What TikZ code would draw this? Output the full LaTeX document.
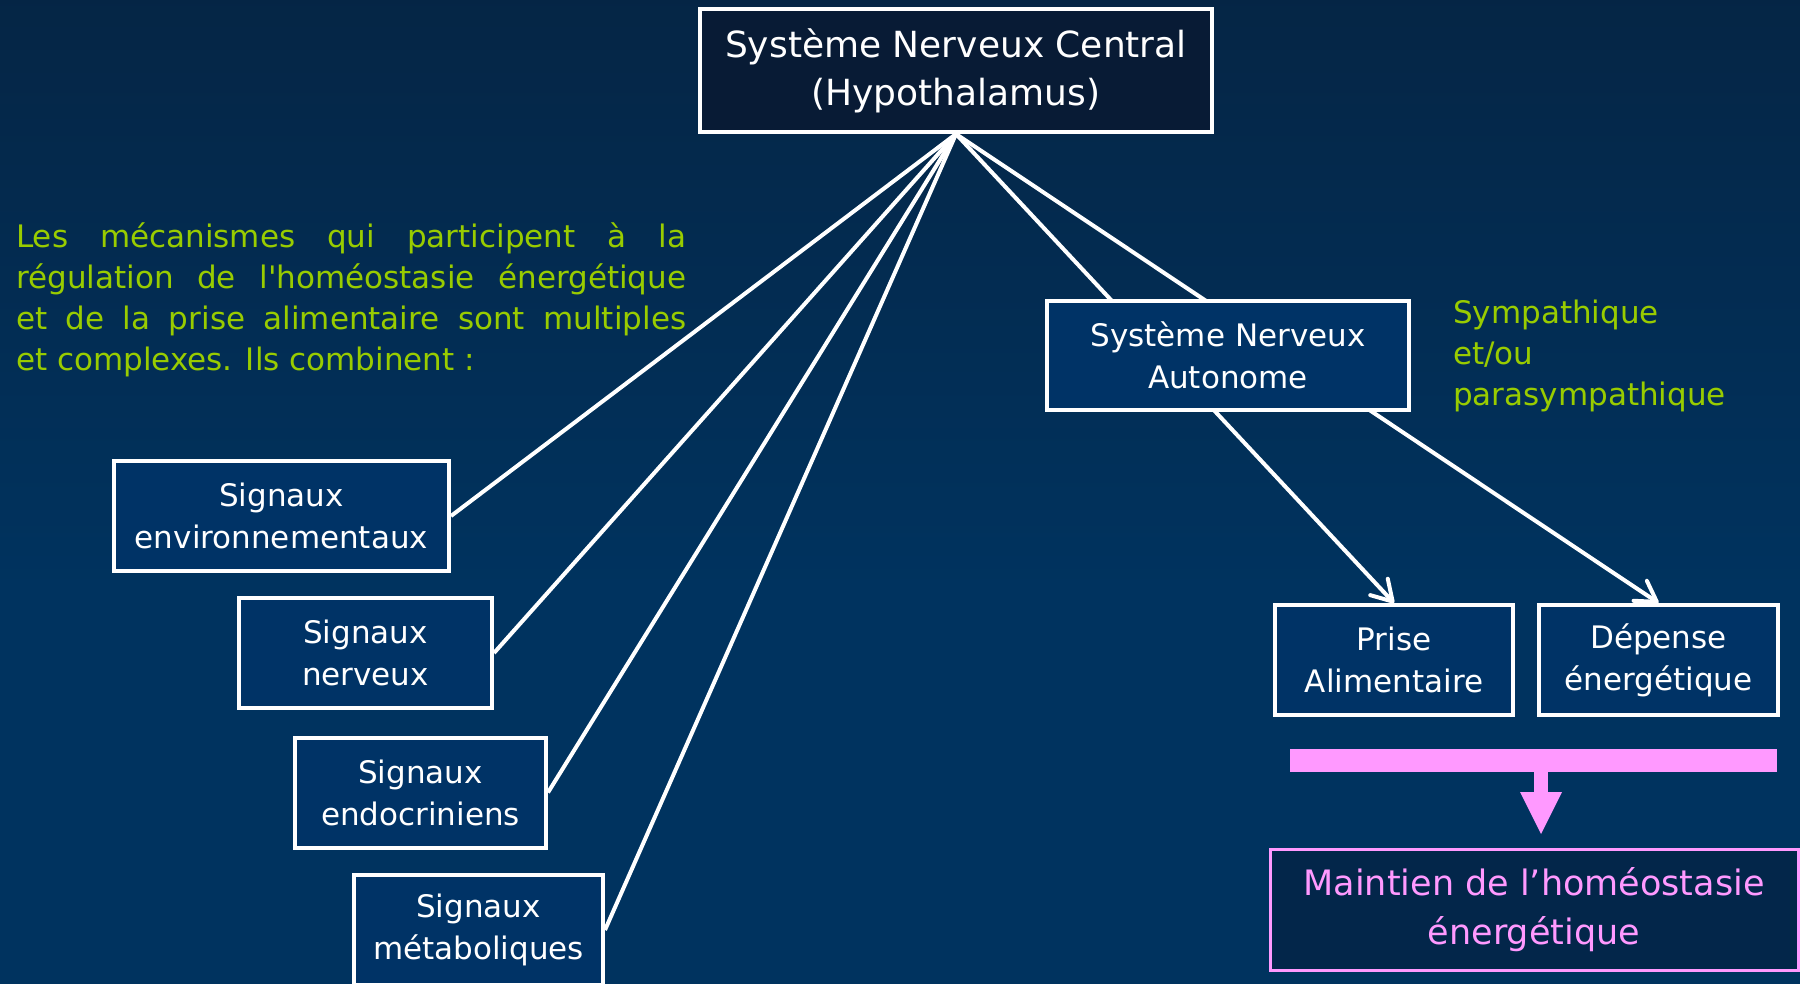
\documentclass[tikz,border=0pt]{standalone}
\usepackage{fontspec}
\setmainfont{DejaVu Sans}
\usetikzlibrary{arrows.meta}
\definecolor{bgtop}{HTML}{0A1A30}
\definecolor{bgmid}{HTML}{00335F}
\definecolor{bgbot}{HTML}{03264A}
\definecolor{boxfill}{HTML}{003366}
\definecolor{darkfill}{HTML}{081B35}
\definecolor{lime}{HTML}{99CC00}
\definecolor{pinkc}{HTML}{FF99FF}
\newcommand{\straightquote}{{\XeTeXglyph\XeTeXcharglyph"27\relax}}
\pgfdeclareverticalshading{bgshade}{100bp}{color(0bp)=(bgbot); color(25bp)=(bgmid); color(45bp)=(bgmid); color(100bp)=(bgtop)}
\tikzset{
  wbox/.style={draw=white, line width=4pt, fill=boxfill, text=white, align=center,
    inner sep=0pt, font=\fontsize{31}{42}\selectfont},
  conn/.style={draw=white, line width=4pt},
  arr/.style={conn, -{Straight Barb[length=20pt,width=24pt,round]}},
  greentext/.style={text=lime, inner sep=0pt, align=left, font=\fontsize{31}{41}\selectfont},
}
\begin{document}
\begin{tikzpicture}[x=1pt,y=-1pt]
\useasboundingbox (0,0) rectangle (1800,984);
\shade[shading=bgshade] (0,0) rectangle (1800,984);

% top node
\node[wbox, fill=darkfill, minimum width=512pt, minimum height=123pt,
      font=\fontsize{36}{48}\selectfont] (snc) at (956,70.5)
  {Système Nerveux Central\\(Hypothalamus)};

% signal boxes
\node[wbox, minimum width=335pt, minimum height=110pt] (s1) at (281.5,516)
  {Signaux\\environnementaux};
\node[wbox, minimum width=253pt, minimum height=110pt] (s2) at (365.5,653)
  {Signaux\\nerveux};
\node[wbox, minimum width=251pt, minimum height=110pt] (s3) at (420.5,792.5)
  {Signaux\\endocriniens};
\node[wbox, minimum width=249pt, minimum height=110pt] (s4) at (478.5,930)
  {Signaux\\métaboliques};

% output boxes
\node[wbox, minimum width=238pt, minimum height=110pt] (prise) at (1394,660)
  {Prise\\Alimentaire};
\node[wbox, minimum width=239pt, minimum height=110pt] (dep) at (1658.5,660)
  {Dépense\\énergétique};

% connectors
\draw[conn] (snc.south) -- (s1.east);
\draw[conn] (snc.south) -- (s2.east);
\draw[conn] (snc.south) -- (s3.east);
\draw[conn] (snc.south) -- (s4.east);
\draw[arr] (snc.south) -- (prise.north);
\draw[arr] (snc.south) -- (dep.north);

% autonomic box drawn over the arrows
\node[wbox, minimum width=362pt, minimum height=109pt] (sna) at (1228,355.5)
  {Système Nerveux\\Autonome};

% green texts
\node[greentext, anchor=north west] (para) at (16,222.5)
  {\makebox[670pt][s]{Les mécanismes qui participent à la}\\
   \makebox[670pt][s]{régulation de l\straightquote homéostasie énergétique}\\
   \makebox[670pt][s]{et de la prise alimentaire sont multiples}\\
   et complexes. Ils combinent :};
\node[greentext, anchor=north west] (symp) at (1453,300)
  {Sympathique\\et/ou\\parasympathique};

% pink block arrow
\fill[pinkc] (1290,749) rectangle (1777,772);
\fill[pinkc] (1534,771) rectangle (1548,793);
\fill[pinkc] (1520,792) -- (1562,792) -- (1541,834) -- cycle;

\node[draw=pinkc, line width=3pt, fill=bgbot, text=pinkc, align=center, inner sep=0pt,
      minimum width=528pt, minimum height=121pt,
      font=\fontsize{35}{49}\selectfont] (main) at (1534,909.5)
  {Maintien de l’homéostasie\\énergétique};
\end{tikzpicture}
\end{document}
